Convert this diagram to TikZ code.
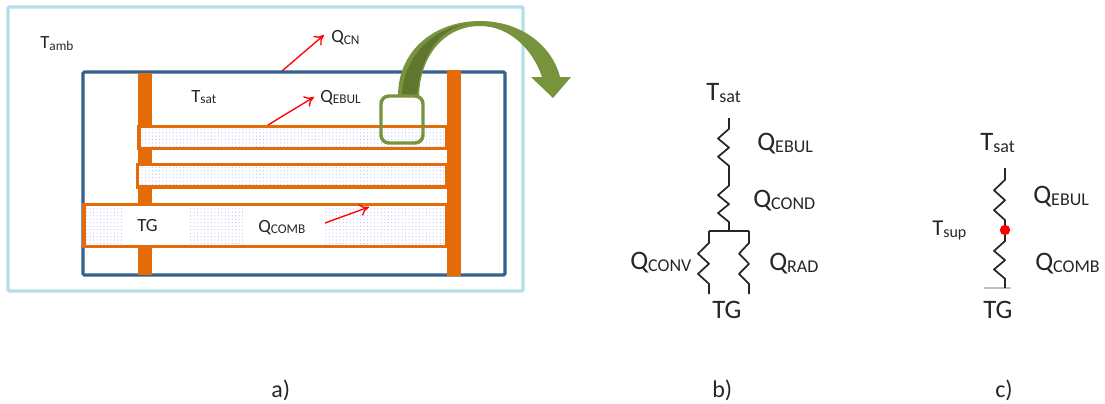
\documentclass[tikz,border=0pt]{standalone}
\usepackage{fontspec}
\setmainfont{Carlito}
\usetikzlibrary{calc,patterns.meta,arrows.meta}

\definecolor{iceblue}{HTML}{B7DDE8}
\definecolor{vesselblue}{HTML}{34608F}
\definecolor{tubeorange}{HTML}{E36C09}
\definecolor{leafgreen}{HTML}{77933C}
\definecolor{darkleaf}{HTML}{5F7530}

% label with a lowered small index, large and small versions
\newcommand{\biglab}[2]{{\fontsize{20}{24}\selectfont #1}{\fontsize{13.5}{16}\selectfont\raisebox{-1.5pt}{#2}}}
\newcommand{\smalllab}[2]{{\fontsize{14}{16}\selectfont #1}{\fontsize{10}{12}\selectfont\raisebox{-1pt}{#2}}}
% one-sided zigzag between two named points, offset #3 to the side
\newcommand{\zigres}[3]{\draw[wire] (#1) -- ($(#1)!.19!(#2)$) -- ($(#1)!.36!(#2)+(#3,0)$) -- ($(#1)!.52!(#2)$)
  -- ($(#1)!.68!(#2)+(#3,0)$) -- ($(#1)!.84!(#2)$) -- (#2);}

\begin{document}
\begin{tikzpicture}[
    x=.75pt, y=-.75pt,
    every node/.style={inner sep=0pt, anchor=base west, text=black!85},
    plate/.style={draw=tubeorange, line width=2.8pt, preaction={fill=white},
      pattern={Dots[distance=2.6pt,radius=.42pt]}, pattern color=blue!28},
    wall/.style={fill=tubeorange, draw=none},
    hole/.style={fill=white, anchor=center},
    heat/.style={draw=red, line width=1pt, -{To[length=7pt,width=9pt]}},
    wire/.style={draw=black!85, line width=1.3pt, line join=round},
    caption/.style={font=\fontsize{18}{21}\selectfont},
  ]
  \useasboundingbox (0,0) rectangle (1105,403);

  %%%%%%%%%%%%%%%%%%%%%%%%%%%%%%%%%%%%%%%%%%%%%%%%
  % a) vessel
  %%%%%%%%%%%%%%%%%%%%%%%%%%%%%%%%%%%%%%%%%%%%%%%%
  \draw[iceblue, line width=2.6pt, rounded corners=1pt] (8,7) rectangle (523,291);
  \draw[vesselblue, line width=2.4pt, rounded corners=1pt] (83,72) rectangle (505,275);
  \fill[wall] (138,73) rectangle (152,275);

  % tubes
  \draw[plate] (139,126.5) rectangle (447,148.5);
  \draw[plate] (137.5,164.5) rectangle (447,187);
  \draw[plate] (84,204.5) rectangle (447,246.5);
  \fill[wall] (447,70) rectangle (461,276);

  % white patches behind the labels
  \node[hole, minimum width=49.5pt, minimum height=28pt] (TGbox) at (155,225.5) {};
  \node[hole, minimum width=61.5pt, minimum height=28pt] (Qbox) at (284,225.5) {};

  \node (Tamb) at (40,49) {\smalllab{T}{amb}};
  \node (TsatA) at (191,102) {\smalllab{T}{sat}};
  \node (QCN) at (331,43) {\smalllab{Q}{CN}};
  \node (QEBULa) at (320,102) {\smalllab{Q}{EBUL}};
  \node (TGa) at (137,231) {\smalllab{TG}{}};
  \node (QCOMBa) at (258,232) {\smalllab{Q}{COMB}};

  % heat flows
  \coordinate (cnfoot) at (282,71);
  \coordinate (cntip) at (324,35);
  \coordinate (ebfoot) at (268,125);
  \coordinate (ebtip) at (314,97);
  \coordinate (cofoot) at (325,223);
  \coordinate (cotip) at (369,207);
  \draw[heat] (cnfoot) -- (cntip);
  \draw[heat] (ebfoot) -- (ebtip);
  \draw[heat] (cofoot) -- (cotip);

  % zoom arrow
  \fill[leafgreen] (398,96) .. controls (398,50) and (435,21) .. (480,21)
    .. controls (520,21) and (552,45) .. (560,77) -- (571,77) -- (553,98) -- (531,77) -- (542,77)
    .. controls (533,50) and (510,26) .. (480,26) .. controls (445,26) and (420,55) .. (419,96) -- cycle;
  \fill[darkleaf] (402,96) .. controls (403,60) and (430,28) .. (468,24)
    .. controls (440,28) and (420,55) .. (417,96) -- cycle;
  \draw[leafgreen, line width=2.6pt, rounded corners=6pt] (381,96) rectangle (423,143);

  %%%%%%%%%%%%%%%%%%%%%%%%%%%%%%%%%%%%%%%%%%%%%%%%
  % b) network
  %%%%%%%%%%%%%%%%%%%%%%%%%%%%%%%%%%%%%%%%%%%%%%%%
  \node (TsatB) at (706,100) {\biglab{T}{sat}};
  \node (QEBULb) at (757,150) {\biglab{Q}{EBUL}};
  \node (QCOND) at (753,207) {\biglab{Q}{COND}};
  \node (QCONV) at (630,269) {\biglab{Q}{CONV}};
  \node (QRAD) at (769,270) {\biglab{Q}{RAD}};
  \node (TGb) at (712,318) {\biglab{TG}{}};

  \coordinate (btop) at (729,118);
  \coordinate (bmid) at (729,175);
  \coordinate (bjoin) at (729,231);
  \coordinate (bleft) at (709,231);
  \coordinate (bright) at (749,231);
  \coordinate (bleftend) at (709,294);
  \coordinate (brightend) at (749,294);
  \zigres{btop}{bmid}{-11}
  \zigres{bmid}{bjoin}{-11}
  \draw[wire] (bleft) -- (bright);
  \zigres{bleft}{bleftend}{-11}
  \zigres{bright}{brightend}{-10}

  %%%%%%%%%%%%%%%%%%%%%%%%%%%%%%%%%%%%%%%%%%%%%%%%
  % c) network
  %%%%%%%%%%%%%%%%%%%%%%%%%%%%%%%%%%%%%%%%%%%%%%%%
  \node (TsatC) at (980,150) {\biglab{T}{sat}};
  \node (QEBULc) at (1033,203) {\biglab{Q}{EBUL}};
  \node (Tsup) at (932,235) {{\fontsize{17}{20}\selectfont T}{\fontsize{12}{14}\selectfont\raisebox{-1.5pt}{sup}}};
  \node (QCOMBc) at (1035,270) {\biglab{Q}{COMB}};
  \node (TGc) at (983,318) {\biglab{TG}{}};

  \coordinate (ctop) at (1005,168);
  \coordinate (cdot) at (1005,230);
  \coordinate (cend) at (1005,288);
  \coordinate (cgl) at (984,288);
  \coordinate (cgr) at (1011,288);
  \draw[black!25, line width=1pt] (cgl) -- (cgr);
  \zigres{ctop}{cdot}{-11}
  \zigres{cdot}{cend}{-11}
  \fill[red] (cdot) circle[radius=3.9pt];

  % captions
  \node[caption] (capa) at (271,397) {a)};
  \node[caption] (capb) at (712,397) {b)};
  \node[caption] (capc) at (995,397) {c)};
\end{tikzpicture}
\end{document}
